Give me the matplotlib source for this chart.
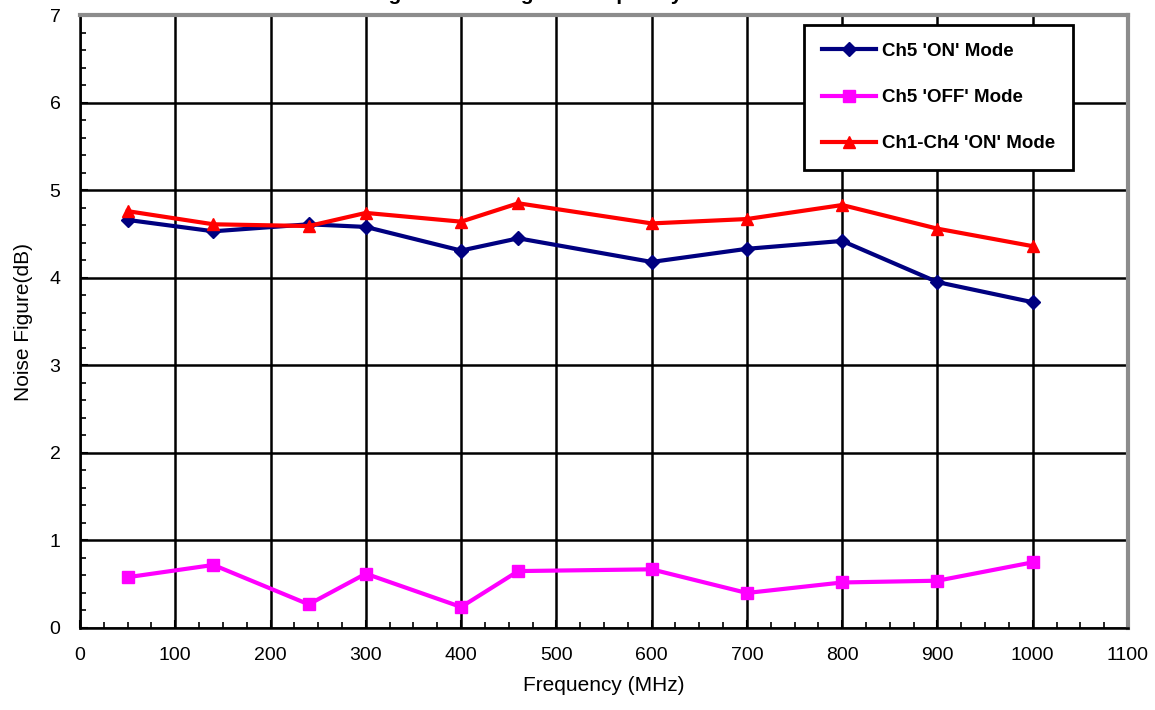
import matplotlib.pyplot as plt
from matplotlib.ticker import MultipleLocator

plt.rcParams.update({'font.family': ['Liberation Sans', 'DejaVu Sans']})

# Frequencies measured (MHz)
freq = [50, 140, 240, 300, 400, 460, 600, 700, 800, 900, 1000]
# Noise figure (dB) per mode
ch5_on = [4.66, 4.53, 4.61, 4.58, 4.31, 4.45, 4.18, 4.33, 4.42, 3.95, 3.72]
ch5_off = [0.58, 0.72, 0.27, 0.62, 0.24, 0.65, 0.67, 0.40, 0.52, 0.54, 0.75]
ch14_on = [4.76, 4.61, 4.59, 4.74, 4.64, 4.85, 4.62, 4.67, 4.83, 4.56, 4.36]
labels = ["Ch5 'ON' Mode", "Ch5 'OFF' Mode", "Ch1-Ch4 'ON' Mode"]

fig = plt.figure(figsize=(11.55, 7.1), dpi=100)
ax = fig.add_axes([80/1155, 82/710, 1048/1155, 613/710])

ax.plot(freq, ch5_on, color='#000080', lw=3, marker='D', ms=7, label=labels[0])
ax.plot(freq, ch5_off, color='#FF00FF', lw=3, marker='s', ms=8, label=labels[1])
ax.plot(freq, ch14_on, color='#FF0000', lw=3, marker='^', ms=9, label=labels[2])

ax.set_xlim(0, 1100)
ax.set_ylim(0, 7)
ax.xaxis.set_major_locator(MultipleLocator(100))
ax.xaxis.set_minor_locator(MultipleLocator(25))
ax.yaxis.set_major_locator(MultipleLocator(1))
ax.yaxis.set_minor_locator(MultipleLocator(0.2))
ax.tick_params(which='both', direction='in', top=False, right=False, labelsize=14)
ax.tick_params(which='major', length=6, width=1.5, pad=14)
ax.tick_params(which='minor', length=4, width=1.2)
ax.grid(True, which='major', color='black', lw=1.8)

for s in ['left', 'bottom']:
    ax.spines[s].set_color('black')
    ax.spines[s].set_linewidth(1.8)
for s in ['top', 'right']:
    ax.spines[s].set_color('#8C8C8C')
    ax.spines[s].set_linewidth(3)

ax.set_xlabel('Frequency (MHz)', fontsize=15, labelpad=8)
ax.set_ylabel('Noise Figure(dB)', fontsize=15, labelpad=12)

leg = ax.legend(loc='upper right', fontsize=13.5, frameon=True, fancybox=False,
                edgecolor='black', framealpha=1, borderpad=0.95, labelspacing=1.55,
                handlelength=2.9, handletextpad=0.3, borderaxespad=0)
leg.get_frame().set_linewidth(2)
for t in leg.get_texts():
    t.set_fontweight('bold')
leg.set_bbox_to_anchor((1073/1155, 1 - 25/710), transform=fig.transFigure)

# title mostly clipped above the figure edge, as in the source
fig.text(495/1155, 1.0, 'Noise Figure vs Change of Frequency', ha='center',
         va='baseline', fontsize=15, fontweight='bold')

fig.savefig('out.png', dpi=100)
